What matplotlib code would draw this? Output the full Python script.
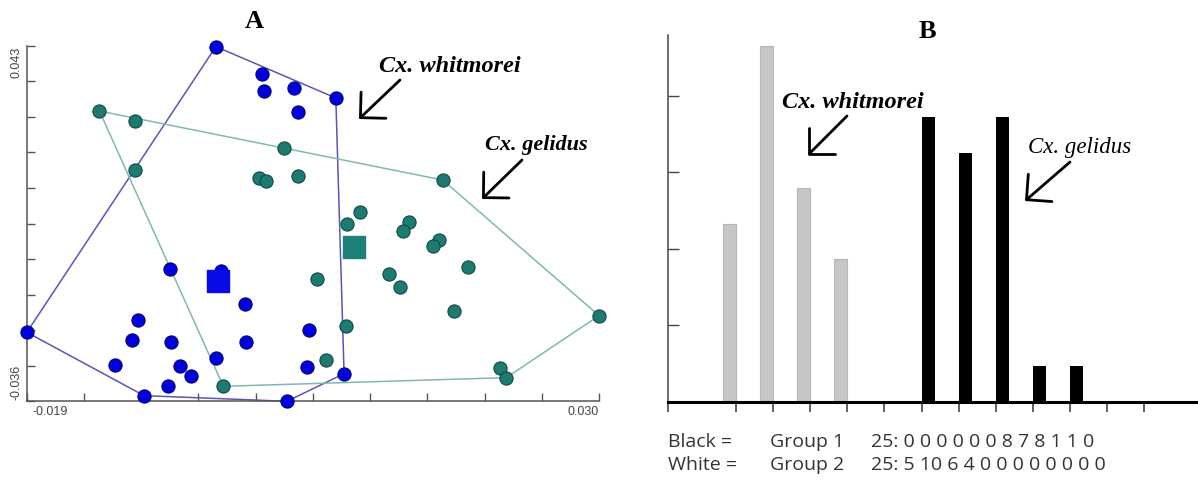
import numpy as np
import matplotlib
matplotlib.use("Agg")
import matplotlib.pyplot as plt

# panel A: scatter of the two groups
blue_x = [-0.00281, 0.00117, 0.00131, 0.00391, 0.00746, 0.00422, -0.0067, -0.00237,
          -0.00035, -0.0095, -0.0190, -0.00998, -0.00663, -0.00025, 0.0052, -0.00278,
          -0.01146, -0.00592, -0.00494, 0.00499, 0.00817, -0.00687, -0.00896, 0.00327]
blue_y = [0.0428, 0.03663, 0.03293, 0.03352, 0.03138, 0.02819, -0.00661, -0.00698,
          -0.01446, -0.01786, -0.02067, -0.0223, -0.02282, -0.02275, -0.02008, -0.02645,
          -0.02786, -0.02808, -0.03045, -0.02845, -0.02986, -0.03267, -0.03474, -0.0360]
teal_x = [-0.01278, -0.00977, 0.0030, -0.00974, 0.00087, 0.00145, 0.00418, 0.01662,
          0.00952, 0.00841, 0.01371, 0.01324, 0.01631, 0.01581, 0.01881, 0.00587,
          0.01199, 0.01293, 0.0176, 0.0300, 0.0083, 0.00658, 0.02152, 0.02206, -0.00217]
teal_y = [0.02849, 0.02634, 0.0202, 0.01538, 0.01368, 0.01301, 0.01398, 0.01316,
          0.00598, 0.00332, 0.00376, 0.00176, -0.00024, -0.00142, -0.00609, -0.00883,
          -0.00779, -0.01061, -0.01601, -0.01697, -0.01919, -0.02675, -0.02867, -0.03074, -0.03267]
blue_mean = (-0.00261, -0.0092)
teal_mean = (0.00901, -0.00179)
xlim_a = (-0.019, 0.030)
ylim_a = (-0.036, 0.043)

# panel B: histogram counts per bin
group1 = [0, 0, 0, 0, 0, 0, 8, 7, 8, 1, 1, 0]
group2 = [5, 10, 6, 4, 0, 0, 0, 0, 0, 0, 0, 0]
bins = np.arange(len(group1))


def hull(xs, ys):
    pts = sorted(set(zip(xs, ys)))

    def cross(o, a, b):
        return (a[0] - o[0]) * (b[1] - o[1]) - (a[1] - o[1]) * (b[0] - o[0])
    lower, upper = [], []
    for p in pts:
        while len(lower) >= 2 and cross(lower[-2], lower[-1], p) <= 0:
            lower.pop()
        lower.append(p)
    for p in reversed(pts):
        while len(upper) >= 2 and cross(upper[-2], upper[-1], p) <= 0:
            upper.pop()
        upper.append(p)
    h = lower[:-1] + upper[:-1]
    h.append(h[0])
    return [p[0] for p in h], [p[1] for p in h]


fig = plt.figure(figsize=(11.98, 4.85), dpi=100)

# ---------------- panel A ----------------
axA = fig.add_axes([0.0224, 0.1705, 0.4776, 0.7332])
hx, hy = hull(blue_x, blue_y)
axA.plot(hx, hy, color="#5e54b2", lw=1.1, zorder=2, clip_on=False)
hx, hy = hull(teal_x, teal_y)
axA.plot(hx, hy, color="#80b8b2", lw=1.1, zorder=2, clip_on=False)
axA.scatter(blue_x, blue_y, s=90, color="#0000dd", edgecolors="#00007a",
            linewidths=0.8, zorder=3, clip_on=False)
axA.scatter(teal_x, teal_y, s=90, color="#1f7a72", edgecolors="#0b4a44",
            linewidths=0.8, zorder=3, clip_on=False)
axA.scatter(*blue_mean, marker="s", s=230, color="#0a0ae8", zorder=4)
axA.scatter(*teal_mean, marker="s", s=230, color="#1f807a", zorder=4)
axA.set_xlim(xlim_a)
axA.set_ylim(ylim_a)
for s in ["top", "right"]:
    axA.spines[s].set_visible(False)
for s in ["left", "bottom"]:
    axA.spines[s].set_color("#555555")
    axA.spines[s].set_linewidth(1.1)
axA.set_xticks(np.linspace(*xlim_a, 11))
axA.set_yticks(np.linspace(*ylim_a, 11))
axA.set_xticklabels([])
axA.set_yticklabels([])
axA.tick_params(direction="in", length=6, width=1, color="#555555")
lab = dict(fontsize=9, color="#444444", family="Liberation Sans")
axA.annotate("%.3f" % xlim_a[0], (xlim_a[0], ylim_a[0]), xytext=(4, -3),
             textcoords="offset points", ha="left", va="top", **lab)
axA.annotate("%.3f" % xlim_a[1], (xlim_a[1], ylim_a[0]), xytext=(0, -3),
             textcoords="offset points", ha="right", va="top", **lab)
axA.annotate("%.3f" % ylim_a[1], (xlim_a[0], ylim_a[1]), xytext=(-3, 0),
             textcoords="offset points", rotation=90, ha="right", va="top", **lab)
axA.annotate("%.3f" % ylim_a[0], (xlim_a[0], ylim_a[0]), xytext=(-3, 2),
             textcoords="offset points", rotation=90, ha="right", va="bottom", **lab)

# ---------------- panel B ----------------
axB = fig.add_axes([0.5573, 0.1691, 0.4427, 0.7567])
w = 0.36
axB.bar(bins + 1 - w, group2, width=w, align="edge", color="#c6c6c6",
        edgecolor="#b6b6b6", linewidth=0.8, zorder=2)
axB.bar(bins, group1, width=w, align="edge", color="black", zorder=2)
axB.set_xlim(-0.84, 13.45)
axB.set_ylim(0, 10.3)
for s in ["top", "right"]:
    axB.spines[s].set_visible(False)
axB.spines["bottom"].set_linewidth(2.2)
axB.spines["bottom"].set_color("black")
axB.spines["left"].set_color("#444444")
axB.spines["left"].set_linewidth(1.1)
axB.set_yticks([2.15, 4.3, 6.45, 8.6])
axB.set_yticklabels([])
axB.tick_params(axis="y", direction="in", length=8, width=1, color="#444444")
axB.set_xticks([-0.84] + list(bins + 1))
axB.set_xticklabels([])
axB.tick_params(axis="x", direction="out", length=7, width=1.2, color="#444444")

# bottom legend text
leg = dict(fontsize=14, color="#333333", family="Open Sans", va="center")
fig.text(668 / 1198, 1 - 442 / 485, "Black =", **leg)
fig.text(668 / 1198, 1 - 465 / 485, "White =", **leg)
fig.text(770 / 1198, 1 - 442 / 485, "Group 1", **leg)
fig.text(770 / 1198, 1 - 465 / 485, "Group 2", **leg)
fig.text(871 / 1198, 1 - 442 / 485,
         "%d: " % sum(group1) + " ".join(str(v) for v in group1), **leg)
fig.text(871 / 1198, 1 - 465 / 485,
         "%d: " % sum(group2) + " ".join(str(v) for v in group2), **leg)

# titles and annotations
serif = "Liberation Serif"


def fx(px):
    return px / 1198


def fy(py):
    return 1 - py / 485


fig.text(fx(254), fy(22), "A", fontsize=19, weight="bold", family=serif,
         ha="center", va="center")
fig.text(fx(927), fy(32), "B", fontsize=19, weight="bold", family=serif,
         ha="center", va="center")

notes = [("Cx. whitmorei", (450, 66), 17.5, (400, 81), (359, 120), "bold"),
         ("Cx. gelidus", (536, 145), 16, (522, 161), (482, 200), "bold"),
         ("Cx. whitmorei", (853, 102), 17.5, (847, 117), (808, 156), "bold"),
         ("Cx. gelidus", (1080, 148), 16.5, (1070, 163), (1025, 202), "normal")]
for txt, tpos, fs, a0, a1, wt in notes:
    fig.text(fx(tpos[0]), fy(tpos[1]), txt, fontsize=fs, style="italic",
             weight=wt, family=serif, ha="center", va="center")
    fig.patches.append(matplotlib.patches.FancyArrowPatch(
        (fx(a0[0]), fy(a0[1])), (fx(a1[0]), fy(a1[1])),
        transform=fig.transFigure, arrowstyle="->,head_length=0.65,head_width=0.65",
        lw=2.0, color="black", mutation_scale=20, shrinkA=0, shrinkB=0))

fig.savefig("out.png", dpi=100)
